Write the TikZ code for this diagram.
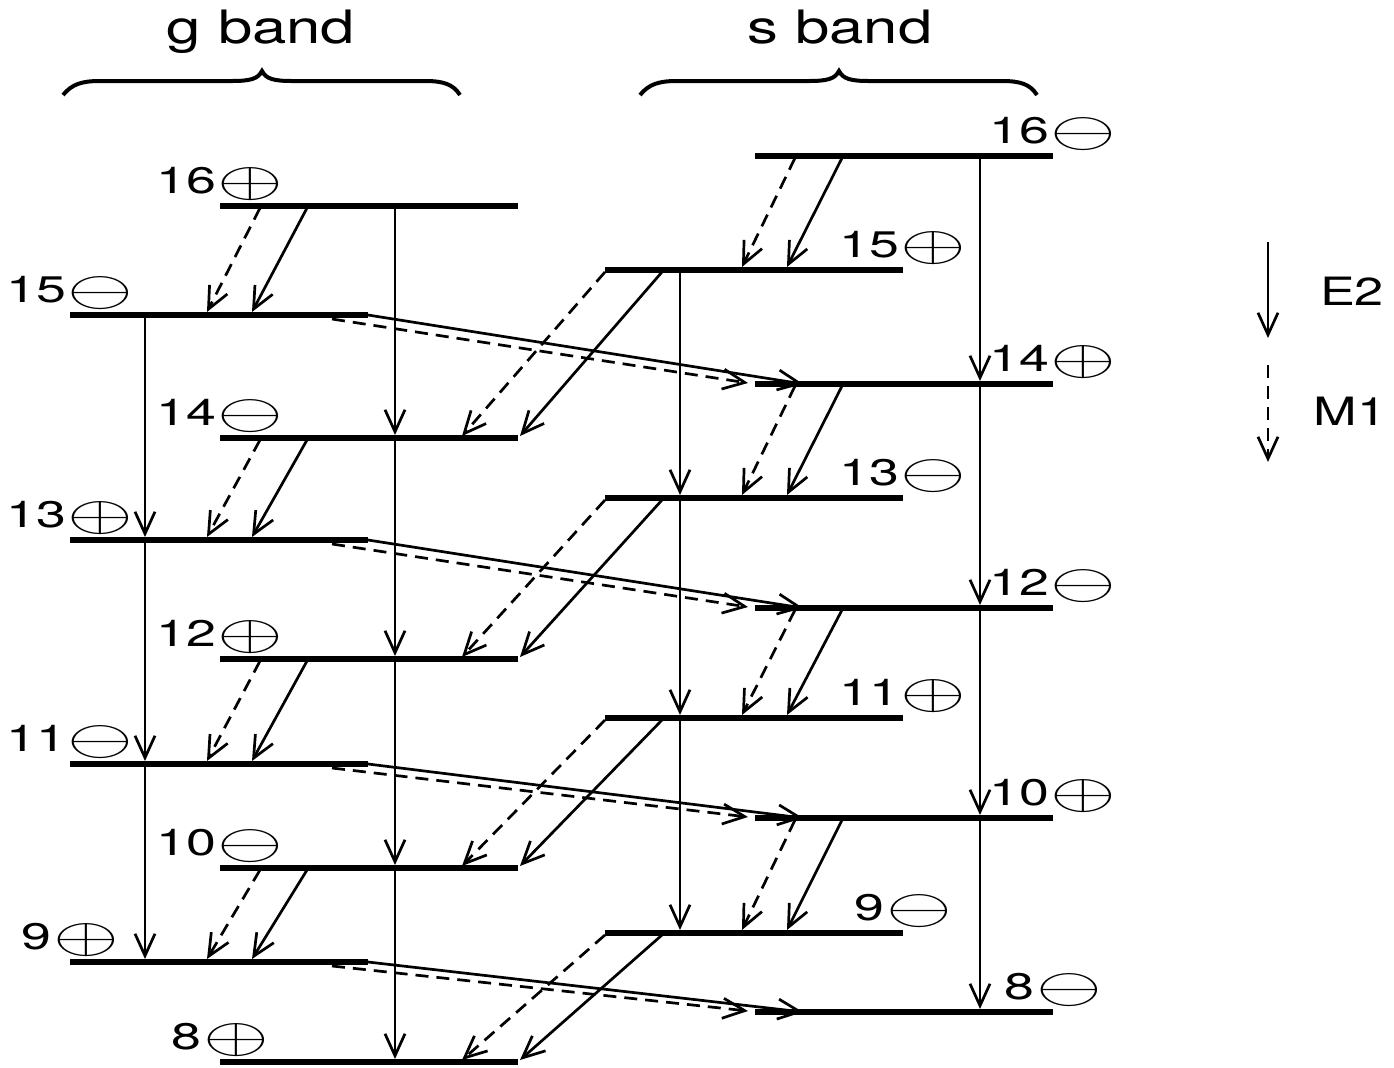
\documentclass[tikz,border=0pt]{standalone}
\usepackage{graphicx}
\usepackage{fontspec}
\setmainfont{TeX Gyre Heros}
\newfontfamily\lblfont{TeX Gyre Heros}[FakeStretch=1.45]
\newfontfamily\hdrfont{TeX Gyre Heros}[FakeStretch=1.34]
\usetikzlibrary{arrows.meta,calc}
\newcommand{\lev}[4]{\coordinate (#1a) at (#2,#4); \coordinate (#1b) at (#3,#4); \draw[levline] (#1a) -- (#1b);}
\newcommand{\plus}{\kern1pt\raisebox{-1.5pt}{\scalebox{1.7}[1]{\fontsize{24.88}{26}\selectfont$\oplus$}}}
\newcommand{\minus}{\kern1pt\raisebox{-1.5pt}{\scalebox{1.7}[1]{\fontsize{24.88}{26}\selectfont$\ominus$}}}
\begin{document}
\begin{tikzpicture}[x=0.5pt,y=-0.5pt,
  levline/.style={line width=3.4pt},
  e2/.style={line width=1.35pt,-{Straight Barb[length=11pt,width=10pt]}},
  m1/.style={e2,dash pattern=on 6.5pt off 4pt},
  lbl/.style={anchor=base,inner sep=0pt,font=\lblfont\fontsize{18.5}{20}\selectfont},
  hdr/.style={anchor=base,inner sep=0pt,font=\hdrfont\fontsize{23}{25}\selectfont},
  leg/.style={anchor=center,inner sep=0pt,font=\hdrfont\fontsize{19.5}{21}\selectfont},
  brace/.style={line width=2pt}]
\useasboundingbox (0,0) rectangle (1394,1067);
% headers
\node[hdr] (hg) at (261,43) {g band};
\node[hdr] (hs) at (840,43) {s band};
% braces
\foreach \dx in {0,577}{
\draw[brace,shift={(\dx,0)}] (63,95) .. controls (72,84) and (82,81) .. (100,81) -- (232,81)
  .. controls (250,81) and (258,79) .. (262,71) .. controls (266,79) and (274,81) .. (292,81)
  -- (425,81) .. controls (443,81) and (453,84) .. (460,95);}
% g band levels
\lev{g16}{220}{518}{206}
\lev{g15}{70}{368}{315}
\lev{g14}{220}{518}{438}
\lev{g13}{70}{368}{540}
\lev{g12}{220}{518}{659}
\lev{g11}{70}{368}{764}
\lev{g10}{220}{518}{868}
\lev{g9}{70}{368}{962}
\lev{g8}{220}{518}{1062}
% s band levels
\lev{s16}{755}{1053}{156}
\lev{s15}{605}{903}{270}
\lev{s14}{755}{1053}{384}
\lev{s13}{605}{903}{498}
\lev{s12}{755}{1053}{608}
\lev{s11}{605}{903}{718}
\lev{s10}{755}{1053}{818}
\lev{s9}{605}{903}{933}
\lev{s8}{755}{1053}{1012}
% labels
\node[lbl] (lg16) at ($(g16a)+(0,-13)$) {16\plus};
\node[lbl] (lg15) at ($(g15a)+(0,-13)$) {15\minus};
\node[lbl] (lg14) at ($(g14a)+(0,-13)$) {14\minus};
\node[lbl] (lg13) at ($(g13a)+(0,-13)$) {13\plus};
\node[lbl] (lg12) at ($(g12a)+(0,-13)$) {12\plus};
\node[lbl] (lg11) at ($(g11a)+(0,-13)$) {11\minus};
\node[lbl] (lg10) at ($(g10a)+(0,-13)$) {10\minus};
\node[lbl] (lg9) at ($(g9a)+(0,-13)$) {9\plus};
\node[lbl] (lg8) at ($(g8a)+(0,-13)$) {8\plus};
\node[lbl] (ls16) at ($(s16b)+(0,-13)$) {16\minus};
\node[lbl] (ls15) at ($(s15b)+(0,-13)$) {15\plus};
\node[lbl] (ls14) at ($(s14b)+(0,-13)$) {14\plus};
\node[lbl] (ls13) at ($(s13b)+(0,-13)$) {13\minus};
\node[lbl] (ls12) at ($(s12b)+(0,-13)$) {12\minus};
\node[lbl] (ls11) at ($(s11b)+(0,-13)$) {11\plus};
\node[lbl] (ls10) at ($(s10b)+(0,-13)$) {10\plus};
\node[lbl] (ls9) at ($(s9b)+(0,-13)$) {9\minus};
\node[lbl] (ls8) at ($(s8b)+(0,-13)$) {8\minus};
% E2 stretched verticals
\foreach \a/\b in {g15/g13,g13/g11,g11/g9}
  \draw[e2] ($(\a a)+(75,0)$) -- ($(\b a)+(75,-3)$);
\foreach \a/\b in {g16/g14,g14/g12,g12/g10,g10/g8}
  \draw[e2] ($(\a a)+(175,0)$) -- ($(\b a)+(175,-3)$);
\foreach \a/\b in {s15/s13,s13/s11,s11/s9}
  \draw[e2] ($(\a a)+(75,0)$) -- ($(\b a)+(75,-3)$);
\foreach \a/\b in {s16/s14,s14/s12,s12/s10,s10/s8}
  \draw[e2] ($(\a a)+(225,0)$) -- ($(\b a)+(225,-3)$);
% in-band dI=1
\foreach \a/\b in {g16/g15,g14/g13,g12/g11,g10/g9,s16/s15,s14/s13,s12/s11,s10/s9}{
  \draw[m1] ($(\a a)+(40,2)$) -- ($(\b a)+(137,-3)$);
  \draw[e2] ($(\a a)+(87,2)$) -- ($(\b a)+(182,-3)$);}
% g odd -> s even
\foreach \a/\b in {g15/s14,g13/s12,g11/s10,g9/s8}{
  \draw[e2] (\a b) -- ($(\b a)+(48,0)$);
  \draw[m1] ($(\a b)+(-36,4)$) -- ($(\b a)+(-7,-1)$);}
% s odd -> g even
\foreach \a/\b in {s15/g14,s13/g12,s11/g10,s9/g8}{
  \draw[e2] ($(\a a)+(57,2)$) -- ($(\b b)+(2,-2)$);
  \draw[m1] ($(\a a)+(0,2)$) -- ($(\b b)+(-56,-2)$);}
% legend
\coordinate (le1) at (1268,242); \coordinate (le2) at (1268,338);
\coordinate (lm1) at (1268,365); \coordinate (lm2) at (1268,462);
\draw[e2] (le1) -- (le2);
\draw[m1] (lm1) -- (lm2);
\node[leg] (tE2) at (1352,291) {E2};
\node[leg] (tM1) at (1350,411) {M1};
\end{tikzpicture}
\end{document}
